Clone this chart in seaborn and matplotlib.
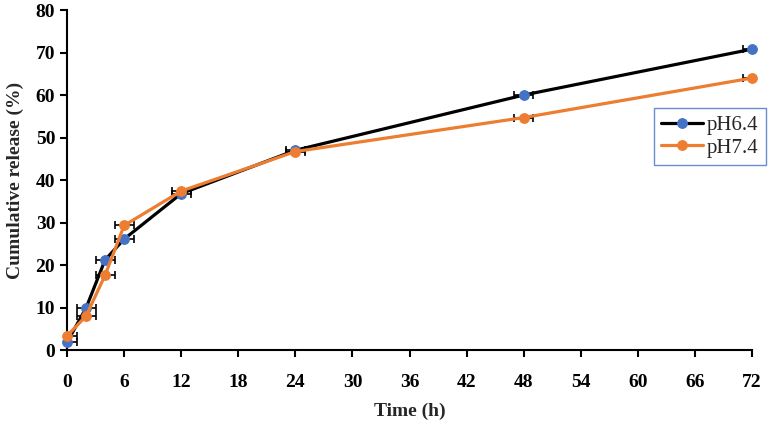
import matplotlib
matplotlib.use("Agg")
import matplotlib.pyplot as plt
import seaborn as sns
import numpy as np

time_h = [0, 2, 4, 6, 12, 24, 48, 72]
ph64 = [1.8, 9.9, 21.2, 26.1, 36.8, 47.0, 60.0, 70.8]
ph74 = [3.3, 8.0, 17.6, 29.3, 37.4, 46.7, 54.7, 64.0]
xerr64 = [1, 1, 1, 1, 1, 1, 1, 1]
xerr74 = [1, 1, 1, 1, 1, 1, 1, 1]
x_ticks = list(range(0, 73, 6))
y_ticks = list(range(0, 81, 10))

sns.set_theme(style="ticks")
plt.rcParams['font.family'] = ['Liberation Serif', 'DejaVu Serif']

fig = plt.figure(figsize=(7.74, 4.26), dpi=100)
ax = fig.add_axes([0.0866, 0.1784, 0.885, 0.798])

blue = '#4472C4'
orange = '#ED7D31'

ax.errorbar(time_h, ph64, xerr=xerr64, fmt='none', ecolor='black', elinewidth=1.2,
            capsize=3, capthick=1.2, zorder=2, clip_on=True)
ax.errorbar(time_h, ph74, xerr=xerr74, fmt='none', ecolor='black', elinewidth=1.2,
            capsize=3, capthick=1.2, zorder=2, clip_on=True)

sns.lineplot(x=time_h, y=ph64, ax=ax, color='black', lw=2.3, marker='o', markersize=7,
             markerfacecolor=blue, markeredgecolor=blue, label='pH6.4', zorder=3, clip_on=False)
sns.lineplot(x=time_h, y=ph74, ax=ax, color=orange, lw=2.3, marker='o', markersize=7,
             markerfacecolor=orange, markeredgecolor=orange, label='pH7.4', zorder=4, clip_on=False)

ax.set_xlim(0, 72)
ax.set_ylim(0, 80)
ax.set_xticks(x_ticks)
ax.set_yticks(y_ticks)
for s in ['top', 'right']:
    ax.spines[s].set_visible(False)
for s in ['left', 'bottom']:
    ax.spines[s].set_color('black')
    ax.spines[s].set_linewidth(1.5)
ax.tick_params(axis='both', direction='out', length=5, width=1.5, colors='black',
               labelsize=14)
ax.tick_params(axis='x', pad=12)
for lab in ax.get_xticklabels() + ax.get_yticklabels():
    lab.set_fontweight('bold')
ax.set_xlabel('Time (h)', fontsize=14, fontweight='bold', labelpad=9)
ax.set_ylabel('Cumulative release (%)', fontsize=14, fontweight='bold', labelpad=8)

leg = ax.legend(loc='upper left', bbox_to_anchor=(0.857, 0.712), frameon=True,
                fancybox=False, fontsize=15, handlelength=2.0, handletextpad=0.2,
                borderpad=0.35, labelspacing=0.15, borderaxespad=0)
leg.get_frame().set_edgecolor(blue)
leg.get_frame().set_linewidth(1.0)

fig.savefig('out.png', dpi=100)
